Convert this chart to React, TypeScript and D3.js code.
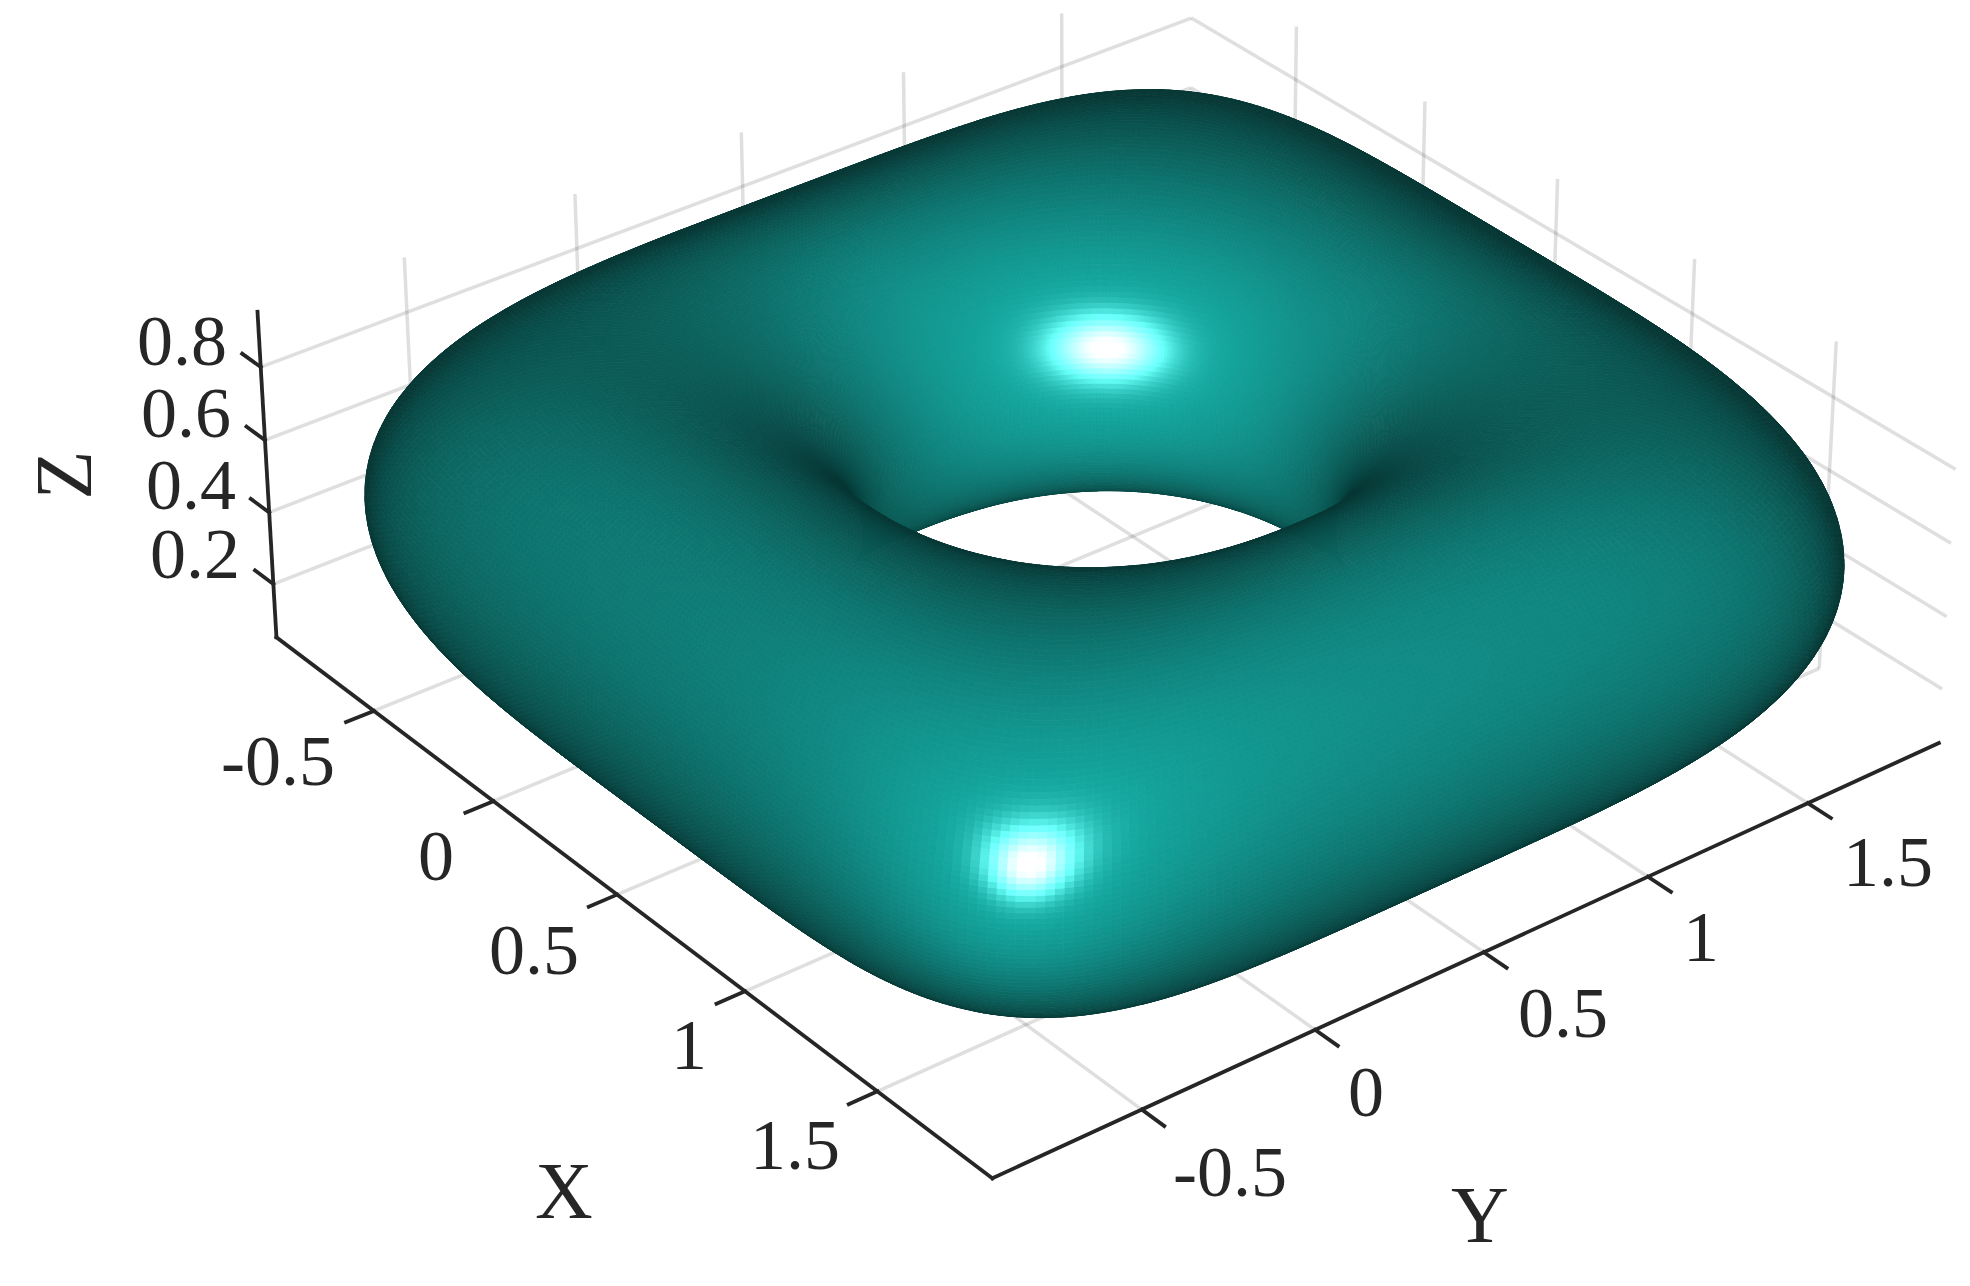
import { useEffect, useRef } from 'react';
import * as d3 from 'd3';

// axis values
const xTicks = [-0.5, 0, 0.5, 1, 1.5];
const yTicks = [-0.5, 0, 0.5, 1, 1.5];
const zTicks = [0.2, 0.4, 0.6, 0.8];
const xLim = [-0.92, 1.92];
const yLim = [-0.92, 1.92];
const zLim = [0.05, 0.95];

// surface shape: centre, tube radii, ring radius, squareness of the outer rim
const centre = [0.5, 0.5, 0.5];
const ringRadius = 0.99;
const tubeRadius = 0.43;
const tubeHeight = 0.45;
const outerSquareness = 5.3;
const squarenessBias = 1.4;
const meshSize = [520, 220];

const calibration: number[][] = [
  [-0.92, -0.92, 0.05, 276, 638], [-0.5, -0.92, 0.05, 373, 710], [0, -0.92, 0.05, 492, 802],
  [0.5, -0.92, 0.05, 617, 895], [1, -0.92, 0.05, 745.5, 991], [1.5, -0.92, 0.05, 879.5, 1092],
  [1.92, -0.92, 0.05, 992.4, 1178],
  [1.92, -0.5, 0.05, 1141.6, 1110], [1.92, 0, 0.05, 1313.6, 1030], [1.92, 0.5, 0.05, 1483, 952],
  [1.92, 1, 0.05, 1648, 876], [1.92, 1.5, 0.05, 1809, 802], [1.92, 1.92, 0.05, 1938, 743],
  [-0.92, -0.92, 0.2, 274, 583.6], [-0.92, -0.92, 0.4, 270, 512], [-0.92, -0.92, 0.6, 265.7, 440.7],
  [-0.92, -0.92, 0.8, 262, 367.5], [-0.92, -0.92, 0.95, 257.6, 310],
  [-0.92, -0.5, 0.95, 402, 257], [-0.92, 0, 0.95, 574, 195], [-0.92, 0.5, 0.95, 742, 133],
  [-0.92, 1, 0.95, 904, 72], [-0.92, 1.5, 0.95, 1063, 13],
  [-0.5, 1.92, 0.95, 1295, 25], [0, 1.92, 0.95, 1424, 102], [0.5, 1.92, 0.95, 1557, 179],
  [1, 1.92, 0.95, 1695.5, 259], [1.5, 1.92, 0.95, 1836.6, 342],
  [-0.92, 1.92, 0.8, 1191.8, 19], [1.5, 1.92, 0.05, 1820, 669],
];

// tick label anchors in pixels
const xLabelPos = [[278, 761], [436, 856], [534, 950], [689, 1045], [795, 1145]];
const yLabelPos = [[1230, 1172], [1366, 1092], [1563, 1013], [1701, 937], [1888, 862]];
const zLabelPos = [[195, 554], [191, 485], [186, 413], [182, 341]];

const ink = '#262626';
const surfaceColor = [20, 172, 164];
const ambient = 0.33;
const diffuse = 0.7;
const diffusePower = 1.15;
const specular = 255;
const shininess = 52;
const lightAz = -40; // degrees in the xy plane
const lightEl = 24;
const lightDistance = 6;

function solveCamera() {
  const n = 11;
  const A = d3.range(n).map(() => new Array(n + 1).fill(0));
  const add = (row: number[], rhs: number) => {
    for (let i = 0; i < n; i++) {
      for (let j = 0; j < n; j++) A[i][j] += row[i] * row[j];
      A[i][n] += row[i] * rhs;
    }
  };
  calibration.forEach(([X, Y, Z, u, v]) => {
    add([X, Y, Z, 1, 0, 0, 0, 0, -u * X, -u * Y, -u * Z], u);
    add([0, 0, 0, 0, X, Y, Z, 1, -v * X, -v * Y, -v * Z], v);
  });
  for (let c = 0; c < n; c++) {
    let piv = c;
    for (let r = c + 1; r < n; r++) if (Math.abs(A[r][c]) > Math.abs(A[piv][c])) piv = r;
    [A[c], A[piv]] = [A[piv], A[c]];
    for (let r = 0; r < n; r++) {
      if (r === c) continue;
      const f = A[r][c] / A[c][c];
      for (let k = c; k <= n; k++) A[r][k] -= f * A[c][k];
    }
  }
  return A.map((row, i) => row[n] / row[i]);
}

const P = solveCamera();
const depth = (x: number, y: number, z: number) => P[8] * x + P[9] * y + P[10] * z + 1;
const project = (x: number, y: number, z: number): [number, number] => {
  const w = depth(x, y, z);
  return [(P[0] * x + P[1] * y + P[2] * z + P[3]) / w, (P[4] * x + P[5] * y + P[6] * z + P[7]) / w];
};

function surfacePoint(theta: number, phi: number) {
  const r = ringRadius + tubeRadius * Math.cos(phi);
  const t = Math.pow((Math.cos(phi) + 1) / 2, squarenessBias);
  const n = 2 + (outerSquareness - 2) * t;
  const c = Math.cos(theta);
  const s = Math.sin(theta);
  const d = Math.pow(Math.pow(Math.abs(c), n) + Math.pow(Math.abs(s), n), 1 / n);
  return [centre[0] + (r * c) / d, centre[1] + (r * s) / d, centre[2] + tubeHeight * Math.sin(phi)];
}

function buildCells() {
  const [nT, nP] = meshSize;
  const thetaAt = d3.scaleLinear().domain([0, nT]).range([0, 2 * Math.PI]);
  const phiAt = d3.scaleLinear().domain([0, nP]).range([0, 2 * Math.PI]);
  const toRad = Math.PI / 180;
  const lamp = [
    centre[0] + lightDistance * Math.cos(lightEl * toRad) * Math.cos(lightAz * toRad),
    centre[1] + lightDistance * Math.cos(lightEl * toRad) * Math.sin(lightAz * toRad),
    centre[2] + lightDistance * Math.sin(lightEl * toRad),
  ];
  const cells: { d: string; fill: string; w: number }[] = [];
  const line = d3.line();
  for (let i = 0; i < nT; i++) {
    for (let j = 0; j < nP; j++) {
      const a = surfacePoint(thetaAt(i), phiAt(j));
      const b = surfacePoint(thetaAt(i + 1), phiAt(j));
      const c = surfacePoint(thetaAt(i + 1), phiAt(j + 1));
      const e = surfacePoint(thetaAt(i), phiAt(j + 1));
      const pts = [a, b, c, e].map(p => project(p[0], p[1], p[2]));
      let area = 0;
      pts.forEach((p, k) => {
        const q = pts[(k + 1) % 4];
        area += p[0] * q[1] - q[0] * p[1];
      });
      if (area >= 0) continue; // faces away from the camera
      const mid = surfacePoint(thetaAt(i + 0.5), phiAt(j + 0.5));
      const u = [c[0] - a[0], c[1] - a[1], c[2] - a[2]];
      const v = [e[0] - b[0], e[1] - b[1], e[2] - b[2]];
      let nx = u[1] * v[2] - u[2] * v[1];
      let ny = u[2] * v[0] - u[0] * v[2];
      let nz = u[0] * v[1] - u[1] * v[0];
      const len = Math.hypot(nx, ny, nz) || 1;
      nx /= len; ny /= len; nz /= len;
      const core = surfacePoint(thetaAt(i + 0.5), Math.PI / 2);
      const out = (mid[0] - core[0]) * nx + (mid[1] - core[1]) * ny + (mid[2] - (centre[2])) * nz;
      if (out < 0) { nx = -nx; ny = -ny; nz = -nz; }
      const lx = lamp[0] - mid[0];
      const ly = lamp[1] - mid[1];
      const lz = lamp[2] - mid[2];
      const ll = Math.hypot(lx, ly, lz);
      const nl = Math.max(0, (nx * lx + ny * ly + nz * lz) / ll);
      const I = ambient + diffuse * Math.pow(nl, diffusePower);
      const sp = specular * Math.pow(nl, shininess);
      const fill = d3.rgb(surfaceColor[0] * I + sp, surfaceColor[1] * I + sp, surfaceColor[2] * I + sp).clamp().formatRgb();
      cells.push({ d: line(pts) + 'Z', fill, w: depth(mid[0], mid[1], mid[2]) });
    }
  }
  return cells.sort((p, q) => d3.descending(p.w, q.w));
}

export default function App() {
  const svgRef = useRef<SVGSVGElement>(null);

  useEffect(() => {
    const svg = d3.select(svgRef.current);
    svg.selectAll('*').remove();
    const seg = (a: number[], b: number[]) => {
      const [x1, y1] = project(a[0], a[1], a[2]);
      const [x2, y2] = project(b[0], b[1], b[2]);
      return { x1, y1, x2, y2 };
    };

    // back planes grid
    const gridSegs = [
      ...xTicks.map(x => seg([x, yLim[0], zLim[0]], [x, yLim[1], zLim[0]])),
      ...yTicks.map(y => seg([xLim[0], y, zLim[0]], [xLim[1], y, zLim[0]])),
      ...yTicks.map(y => seg([xLim[0], y, zLim[0]], [xLim[0], y, zLim[1]])),
      ...xTicks.map(x => seg([x, yLim[1], zLim[0]], [x, yLim[1], zLim[1]])),
      ...zTicks.map(z => seg([xLim[0], yLim[0], z], [xLim[0], yLim[1], z])),
      ...zTicks.map(z => seg([xLim[0], yLim[1], z], [xLim[1], yLim[1], z])),
    ];
    svg.append('g').selectAll('line').data(gridSegs).join('line')
      .attr('x1', d => d.x1).attr('y1', d => d.y1).attr('x2', d => d.x2).attr('y2', d => d.y2)
      .attr('stroke', ink).attr('stroke-opacity', 0.15).attr('stroke-width', 3.5);

    // Surface, far cells first
    svg.append('g').attr('stroke-width', 0.8).attr('stroke-linejoin', 'round')
      .selectAll('path').data(buildCells()).join('path')
      .attr('d', d => d.d).attr('fill', d => d.fill).attr('stroke', d => d.fill);

    // Axis lines and ticks
    const tickLen = 0.08;
    const axisSegs = [
      seg([xLim[0], yLim[0], zLim[0]], [xLim[1], yLim[0], zLim[0]]),
      seg([xLim[1], yLim[0], zLim[0]], [xLim[1], yLim[1], zLim[0]]),
      seg([xLim[0], yLim[0], zLim[0]], [xLim[0], yLim[0], zLim[1]]),
      ...xTicks.map(x => seg([x, yLim[0], zLim[0]], [x, yLim[0] - tickLen, zLim[0]])),
      ...yTicks.map(y => seg([xLim[1], y, zLim[0]], [xLim[1] + tickLen, y, zLim[0]])),
      ...zTicks.map(z => seg([xLim[0], yLim[0], z], [xLim[0] - tickLen, yLim[0], z])),
    ];
    svg.append('g').selectAll('line').data(axisSegs).join('line')
      .attr('x1', d => d.x1).attr('y1', d => d.y1).attr('x2', d => d.x2).attr('y2', d => d.y2)
      .attr('stroke', ink).attr('stroke-width', 3.8).attr('stroke-linecap', 'square');

    // Tick labels
    const labels = [
      ...xTicks.map((v, i) => ({ t: String(v), p: xLabelPos[i] })),
      ...yTicks.map((v, i) => ({ t: String(v), p: yLabelPos[i] })),
      ...zTicks.map((v, i) => ({ t: String(v), p: zLabelPos[i] })),
    ];
    svg.append('g').selectAll('text').data(labels).join('text')
      .attr('x', d => d.p[0]).attr('y', d => d.p[1]).attr('dy', '0.33em')
      .attr('text-anchor', 'middle').attr('font-family', '"Liberation Serif", serif')
      .attr('font-size', 72).attr('fill', ink).text(d => d.t);

    const axisTitle = (t: string, x: number, y: number, rot: number) =>
      svg.append('text').attr('transform', `translate(${x},${y}) rotate(${rot})`)
        .attr('text-anchor', 'middle').attr('dy', '0.33em')
        .attr('font-family', '"Liberation Serif", serif').attr('font-size', 80)
        .attr('fill', ink).text(t);
    axisTitle('X', 564, 1192, 0);
    axisTitle('Y', 1480, 1216, 0);
    axisTitle('Z', 65, 475, -90);
  }, []);

  return <svg ref={svgRef} width={1970} height={1286} style={{ position: 'absolute', left: 0, top: 0, background: '#fff' }} />;
}
